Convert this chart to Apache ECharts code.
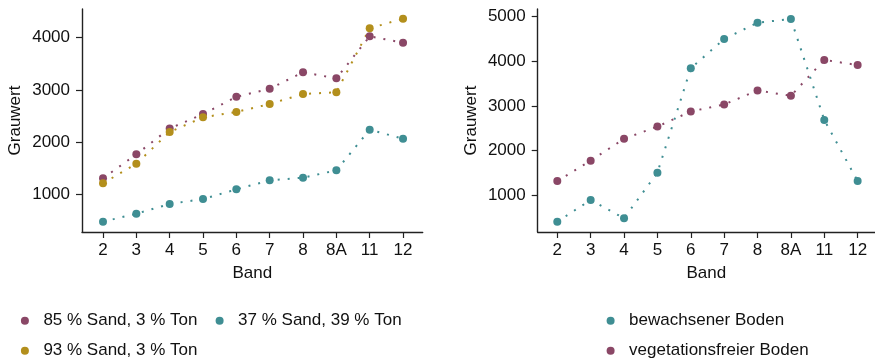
<!DOCTYPE html>
<html>
<head>
<meta charset="utf-8">
<script src="https://cdn.jsdelivr.net/npm/echarts@6/dist/echarts.min.js"></script>
<style>
html,body{margin:0;padding:0;background:#fff;}
#c{width:875px;height:362px;}
</style>
</head>
<body>
<div id="c"></div>
<script>
// Categories (bands)
var bands = ['2', '3', '4', '5', '6', '7', '8', '8A', '11', '12'];

// Left panel series
var sand85 = [1313, 1771, 2265, 2540, 2870, 3025, 3338, 3223, 4026, 3904];
var sand37 = [484, 637, 822, 917, 1102, 1274, 1325, 1465, 2242, 2070];
var sand93 = [1217, 1592, 2198, 2478, 2580, 2733, 2924, 2956, 4179, 4363];

// Right panel series
var bewachsen = [402, 888, 478, 1501, 3842, 4500, 4866, 4948, 2683, 1314];
var vegfrei = [1313, 1771, 2260, 2535, 2875, 3030, 3345, 3226, 4030, 3915];

// Tick labels
var yTicksLeft = [1000, 2000, 3000, 4000];
var yTicksRight = [1000, 2000, 3000, 4000, 5000];

var names = {
  s85: '85 % Sand, 3 % Ton',
  s37: '37 % Sand, 39 % Ton',
  s93: '93 % Sand, 3 % Ton',
  bew: 'bewachsener Boden',
  veg: 'vegetationsfreier Boden'
};

var PURPLE = '#8A4766', TEAL = '#3F8E93', GOLD = '#B38F1C';
var FONT = '"Liberation Sans", Arial, Helvetica, sans-serif';
var AX = '#222';

function pairs(arr) { return arr.map(function (v, i) { return [i, v]; }); }
var idx = bands.map(function (b, i) { return i; });

function xAxis(gi, min, max) {
  return {
    type: 'value', gridIndex: gi, min: min, max: max,
    name: 'Band', nameLocation: 'middle', nameGap: 33,
    nameTextStyle: { fontFamily: FONT, fontSize: 17, color: '#111' },
    axisLine: { show: true, onZero: false, lineStyle: { color: AX, width: 1.4 } },
    axisTick: { show: true, length: 6, customValues: idx, lineStyle: { color: AX, width: 1.2 } },
    axisLabel: { customValues: idx, margin: 10, fontFamily: FONT, fontSize: 17, color: '#111',
      formatter: function (v) { return bands[Math.round(v)]; } },
    splitLine: { show: false }
  };
}
function yAxis(gi, min, max, ticks) {
  return {
    type: 'value', gridIndex: gi, min: min, max: max,
    name: 'Grauwert', nameLocation: 'middle', nameGap: 58,
    nameTextStyle: { fontFamily: FONT, fontSize: 17, color: '#111' },
    axisLine: { show: true, onZero: false, lineStyle: { color: AX, width: 1.4 } },
    axisTick: { show: true, length: 6, customValues: ticks, lineStyle: { color: AX, width: 1.2 } },
    axisLabel: { customValues: ticks, margin: 12, fontFamily: FONT, fontSize: 17, color: '#111',
      formatter: function (v) { return String(Math.round(v)); } },
    splitLine: { show: false }
  };
}
function series(name, data, color, gi) {
  return {
    type: 'line', name: name, xAxisIndex: gi, yAxisIndex: gi,
    data: pairs(data), symbol: 'circle', symbolSize: 8,
    itemStyle: { color: color },
    lineStyle: { color: color, width: 2, type: [2, 8] },
    emphasis: { disabled: true }, animation: false
  };
}
function legend(name, left, cy) {
  return {
    data: [name], left: left, top: cy - 10, padding: 0,
    icon: 'circle', itemWidth: 27, itemHeight: 8,
    textStyle: { fontFamily: FONT, fontSize: 17, color: '#111', lineHeight: 20 },
    selectedMode: false
  };
}

var chart = echarts.init(document.getElementById('c'), null, { renderer: 'canvas' });
chart.setOption({
  animation: false,
  backgroundColor: '#fff',
  grid: [
    { left: 82, top: 9, width: 340.7, height: 223 },
    { left: 537.7, top: 9, width: 337.3, height: 223 }
  ],
  xAxis: [xAxis(0, -0.63, 9.59), xAxis(1, -0.587, 9.52)],
  yAxis: [yAxis(0, 287, 4548, yTicksLeft), yAxis(1, 170, 5173, yTicksRight)],
  legend: [
    legend(names.s85, 20.9, 320.7),
    legend(names.s37, 215.6, 320.7),
    legend(names.s93, 20.9, 350.7),
    legend(names.bew, 606.6, 320.7),
    legend(names.veg, 606.6, 350.7)
  ],
  series: [
    series(names.s85, sand85, PURPLE, 0),
    series(names.s37, sand37, TEAL, 0),
    series(names.s93, sand93, GOLD, 0),
    series(names.bew, bewachsen, TEAL, 1),
    series(names.veg, vegfrei, PURPLE, 1)
  ]
});
</script>
</body>
</html>
